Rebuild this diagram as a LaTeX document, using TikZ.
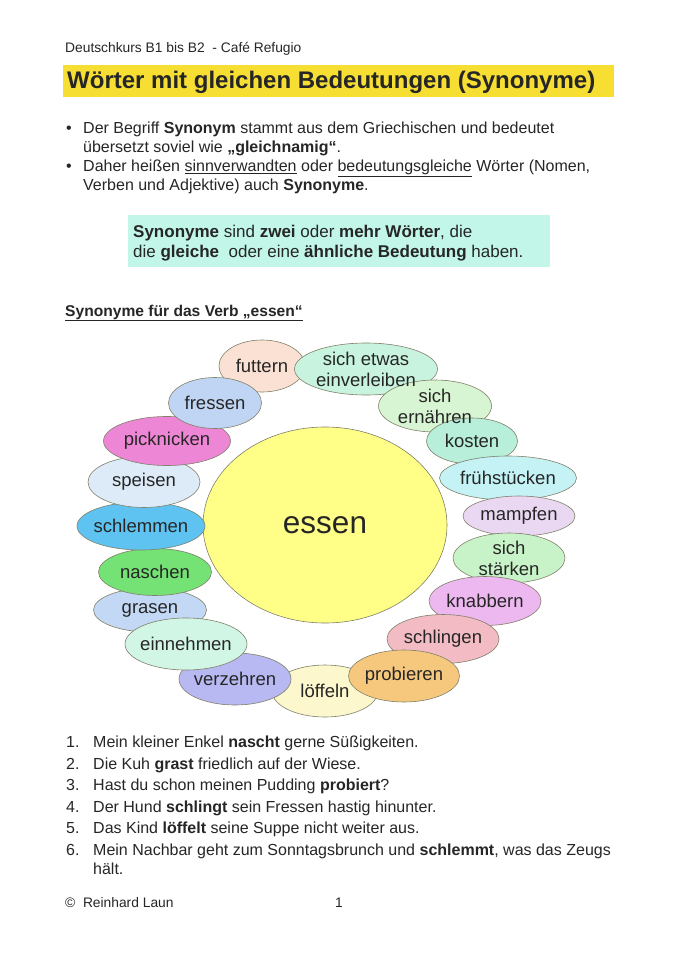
\documentclass[tikz,border=0pt]{standalone}
\usepackage{fontspec}
\setmainfont{Liberation Sans}
\usetikzlibrary{positioning}
\pgfdeclarelayer{bg}
\pgfsetlayers{bg,main}
\definecolor{txt}{HTML}{262626}
\definecolor{rim}{HTML}{80806A}
\definecolor{titlebar}{HTML}{F6DE32}
\definecolor{mintbox}{HTML}{C2F6E8}
\definecolor{essencol}{HTML}{FFFF88}
\definecolor{cFut}{HTML}{FBE1D3}
\definecolor{cEin}{HTML}{C8F3DF}
\definecolor{cErn}{HTML}{D8F5D3}
\definecolor{cKos}{HTML}{B8EFDA}
\definecolor{cFru}{HTML}{C4F2F5}
\definecolor{cMam}{HTML}{EAD8F3}
\definecolor{cSta}{HTML}{C8F3C8}
\definecolor{cKna}{HTML}{EDB8F0}
\definecolor{cSch}{HTML}{F3BBC3}
\definecolor{cPro}{HTML}{F6C87E}
\definecolor{cLoe}{HTML}{FCF7CC}
\definecolor{cVer}{HTML}{B8B8F2}
\definecolor{cNeh}{HTML}{D2F6E6}
\definecolor{cGra}{HTML}{C3D8F5}
\definecolor{cNas}{HTML}{74E274}
\definecolor{cSle}{HTML}{5EC3F0}
\definecolor{cSpe}{HTML}{DDEBF8}
\definecolor{cPic}{HTML}{EE86D6}
\definecolor{cFre}{HTML}{BFD5F3}

\begin{document}
\begin{tikzpicture}[x=1pt, y=-1pt,
    every node/.style={text=txt, inner sep=0pt},
    line/.style={anchor=base west, font=\fontsize{16}{19}\selectfont},
    small/.style={anchor=base west, font=\fontsize{13.8}{16}\selectfont},
    bubble/.style={draw=rim, line width=0.6pt},
    word/.style={align=center, font=\fontsize{18.5}{21}\selectfont}]
    \useasboundingbox (0,0) rectangle (678,960);
    \begin{pgfonlayer}{bg}
        \fill[white] (0,0) rectangle (678,960);
    \end{pgfonlayer}
    % head of the sheet
    \node[small] (kurs) at (65,53) {Deutschkurs B1 bis B2\ \ - Café Refugio};
    \fill[titlebar] (63,65) rectangle (614,97);
    \node[anchor=base west, font=\fontsize{24}{28}\selectfont\bfseries] (title) at (67,89) {Wörter mit gleichen Bedeutungen (Synonyme)};
    \node[line] (dot1) at (66,133.5) {•};
    \node[line] (b1) at (83,133.5) {Der Begriff \textbf{Synonym} stammt aus dem Griechischen und bedeutet};
    \node[line] (b2) at (83,152.5) {übersetzt soviel wie \textbf{„gleichnamig“}.};
    \node[line] (dot2) at (66,171.5) {•};
    \node[line] (b3) at (83,171.5) {Daher heißen \underline{sinnverwandten} oder \underline{bedeutungsgleiche} Wörter (Nomen,};
    \node[line] (b4) at (83,190.5) {Verben und Adjektive) auch \textbf{Synonyme}.};
    \fill[mintbox] (128,215) rectangle (550,267);
    \node[line, font=\fontsize{17}{20}\selectfont] (def1) at (133,237) {\textbf{Synonyme} sind \textbf{zwei} oder \textbf{mehr Wörter}, die};
    \node[line, font=\fontsize{17}{20}\selectfont] (def2) at (133,257) {die \textbf{gleiche}\ \ oder eine \textbf{ähnliche Bedeutung} haben.};
    \node[line, font=\fontsize{15.6}{18}\selectfont\bfseries] (verb) at (65,316) {\underline{Synonyme für das Verb „essen“}};
    % the ring of words
    \begin{pgfonlayer}{bg}
        \draw[bubble, fill=essencol] (325,525) ellipse [x radius=122, y radius=98];
    \end{pgfonlayer}
    \node[font=\fontsize{31.5}{34}\selectfont] (essen) at (325,525) {essen};
    \foreach \n/\x/\y/\w/\h/\c/\t in {
        futtern/262/366/86/52/cFut/futtern,
        einverleiben/366/369/143/52/cEin/{sich etwas\\einverleiben},
        ernaehren/435/406/113/52/cErn/{sich\\ernähren},
        kosten/472/441/91/46/cKos/kosten,
        fruehstuecken/508/478/137/44/cFru/frühstücken,
        mampfen/519/516/112/40/cMam/mampfen,
        staerken/509/558/112/50/cSta/{sich\\stärken},
        knabbern/485/601/112/49/cKna/knabbern,
        schlingen/443/639/112/49/cSch/schlingen,
        loeffeln/325/691/106/52/cLoe/löffeln,
        probieren/404/676/111/52/cPro/probieren,
        verzehren/235/679/112/52/cVer/verzehren,
        grasen/150/610/113/44/cGra/grasen,
        einnehmen/186/644/122/52/cNeh/einnehmen,
        naschen/155/572/113/47/cNas/naschen,
        schlemmen/141/526/128/48/cSle/schlemmen,
        speisen/144/482/112/51/cSpe/speisen,
        picknicken/167/441/127/49/cPic/picknicken,
        fressen/215/403/93/51/cFre/fressen} {
        \begin{pgfonlayer}{bg}
            \draw[bubble, fill=\c] (\x,\y) ellipse [x radius=\w/2, y radius=\h/2];
        \end{pgfonlayer}
        \node[word] (\n) at (\x,\y) {\t};
    }
    % sentences
    \foreach \i/\y/\s in {
        1/747.5/{Mein kleiner Enkel \textbf{nascht} gerne Süßigkeiten.},
        2/769/{Die Kuh \textbf{grast} friedlich auf der Wiese.},
        3/790.5/{Hast du schon meinen Pudding \textbf{probiert}?},
        4/812/{Der Hund \textbf{schlingt} sein Fressen hastig hinunter.},
        5/833.5/{Das Kind \textbf{löffelt} seine Suppe nicht weiter aus.},
        6/855/{Mein Nachbar geht zum Sonntagsbrunch und \textbf{schlemmt}, was das Zeugs}} {
        \node[line] (nr\i) at (66,\y) {\i.};
        \node[line] (satz\i) at (93,\y) {\s};
    }
    \node[line] (satz6b) at (93,874.5) {hält.};
    \node[small] (autor) at (65,907.5) {©\ \ Reinhard Laun};
    \node[small] (seite) at (335,907.5) {1};
\end{tikzpicture}
\end{document}
